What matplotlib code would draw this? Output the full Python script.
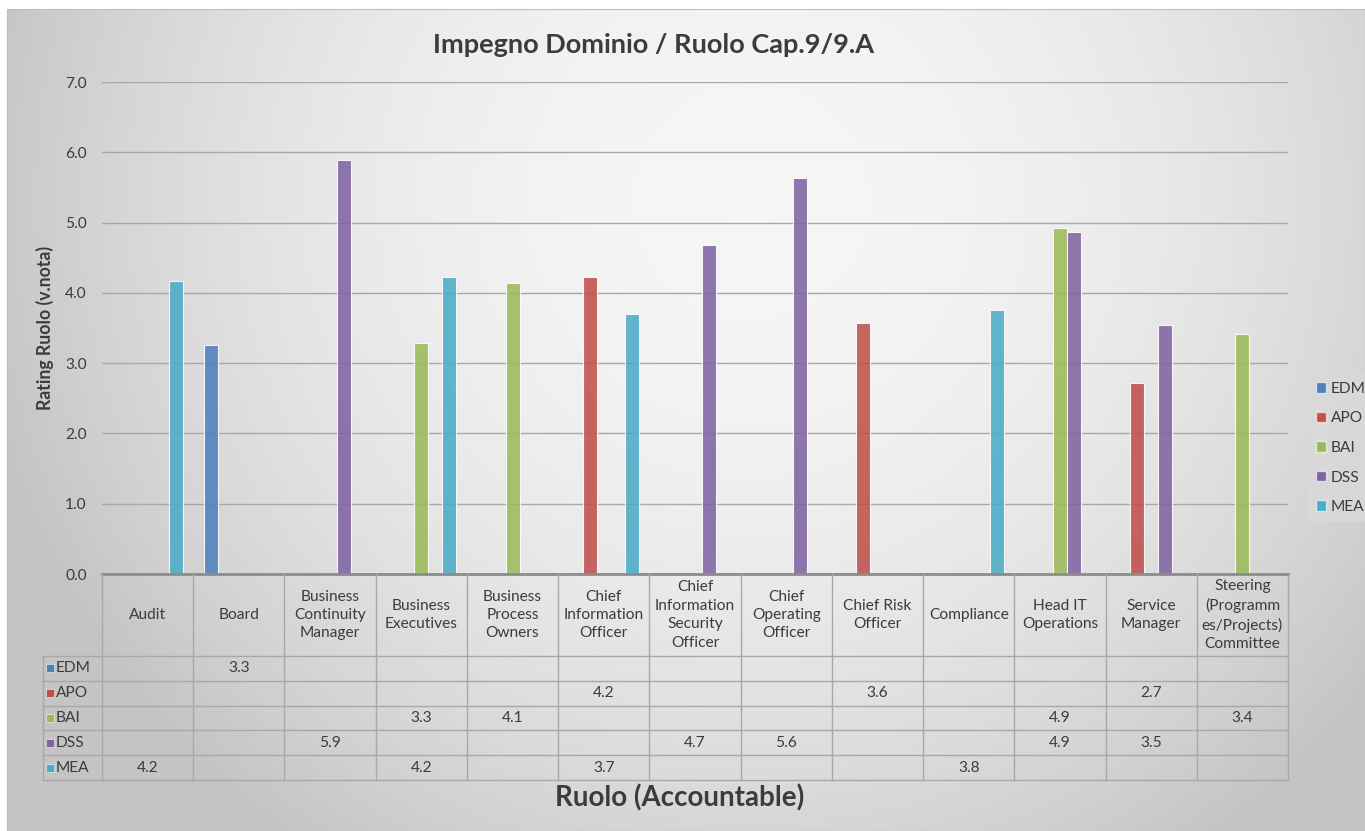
import matplotlib.pyplot as plt
from matplotlib.patches import Patch
import numpy as np

plt.rcParams['font.family'] = ['Lato', 'DejaVu Sans']

categories = ["Audit", "Board", "Business\nContinuity\nManager", "Business\nExecutives",
              "Business\nProcess\nOwners", "Chief\nInformation\nOfficer",
              "Chief\nInformation\nSecurity\nOfficer", "Chief\nOperating\nOfficer",
              "Chief Risk\nOfficer", "Compliance", "Head IT\nOperations", "Service\nManager",
              "Steering\n(Programm\nes/Projects)\nCommittee"]
series = ["EDM", "APO", "BAI", "DSS", "MEA"]
edm = [None, 3.26, None, None, None, None, None, None, None, None, None, None, None]
apo = [None, None, None, None, None, 4.22, None, None, 3.57, None, None, 2.72, None]
bai = [None, None, None, 3.29, 4.14, None, None, None, None, None, 4.92, None, 3.41]
dss = [None, None, 5.89, None, None, None, 4.68, 5.63, None, None, 4.86, 3.54, None]
mea = [4.17, None, None, 4.22, None, 3.70, None, None, None, 3.76, None, None, None]
values = [edm, apo, bai, dss, mea]
colors = ["#4f81bd", "#c0504d", "#9bbb59", "#8064a2", "#4bacc6"]
yticks = [0, 1, 2, 3, 4, 5, 6, 7]

W, H = 1365, 831
fig = plt.figure(figsize=(W / 100, H / 100), dpi=100)
fig.patch.set_facecolor("white")

# background gradient
bg = fig.add_axes([7 / W, 0, 1 - 7 / W, 1 - 9 / H], zorder=-10)
yy, xx = np.mgrid[9:H:2, 7:W:2]
d = np.hypot(xx - 750, yy - 200)
g = np.clip(0.965 - 0.19 * (d / 775) ** 2, 0.77, 1)
bg.imshow(np.dstack([g, g, g]), aspect="auto", extent=[0, 1, 0, 1])
bg.set_xticks([])
bg.set_yticks([])
for sp in bg.spines.values():
    sp.set_color("#c0c0c0")

txt = "#3c3c3c"
grid = "#a8a8a8"
fs = 11.2

ax = fig.add_axes([102 / W, (H - 574) / H, 1186 / W, 492 / H])
ax.set_facecolor("none")
n = len(categories)
x = np.arange(n)
bw = 14 / 91.23
for i, (name, vals, c) in enumerate(zip(series, values, colors)):
    h = np.array([np.nan if v is None else v for v in vals])
    ax.bar(x + (i - 2) * bw, h, bw, color=c, alpha=0.88, edgecolor=(1, 1, 1, 0.5),
           linewidth=0.8, zorder=3, label=name)
ax.set_xlim(-0.5, n - 0.5)
ax.set_ylim(0, 7)
ax.set_yticks(yticks)
ax.set_yticklabels([f"{t:.1f}" for t in yticks], color=txt, fontsize=fs)
ax.tick_params(axis="y", length=0, pad=11)
ax.set_xticks([])
ax.grid(axis="y", color=grid, linewidth=1, zorder=0)
for s in ["top", "right", "left"]:
    ax.spines[s].set_visible(False)
ax.spines["bottom"].set_color("#8c8c8c")
ax.spines["bottom"].set_linewidth(2)
ax.spines["bottom"].set_zorder(5)
ax.set_ylabel("Rating Ruolo (v.nota)", fontsize=12.7, fontweight="bold", color=txt, labelpad=8)

# data table under the plot
tab = fig.add_axes([43 / W, (H - 780) / H, 1245 / W, 206 / H])
tab.set_facecolor("none")
lx = -0.5 - 59 / 91.23
tab.set_xlim(lx, n - 0.5)
tab.set_ylim(206, 0)
tab.axis("off")
hh = 82
rh = (206 - hh) / 5
for k in range(6):
    tab.plot([lx, n - 0.5], [hh + k * rh] * 2, color=grid, lw=1, clip_on=False)
for i in range(n + 1):
    tab.plot([i - 0.5] * 2, [0, 206], color=grid, lw=1, clip_on=False)
tab.plot([lx] * 2, [hh, 206], color=grid, lw=1, clip_on=False)
for i, cat in enumerate(categories):
    tab.text(i, hh / 2, cat, ha="center", va="center", fontsize=fs, color=txt, linespacing=1.4)
for r, (name, vals, c) in enumerate(zip(series, values, colors)):
    yc = hh + (r + 0.5) * rh
    tab.plot([lx + 7 / 91.23], [yc], marker="s", ms=6, color=c, mec=(1, 1, 1, 0.6), mew=0.6)
    tab.text(lx + 13 / 91.23, yc, name, ha="left", va="center", fontsize=fs, color=txt)
    for i, v in enumerate(vals):
        if v is not None:
            tab.text(i, yc, f"{v:.1f}", ha="center", va="center", fontsize=fs, color=txt)

fig.text(654 / W, 1 - 45 / H, "Impegno Dominio / Ruolo Cap.9/9.A", ha="center", va="center",
         fontsize=19.5, fontweight="bold", color=txt)
fig.text(680 / W, 1 - 798 / H, "Ruolo (Accountable)", ha="center", va="center",
         fontsize=20, fontweight="bold", color=txt)

handles = [Patch(facecolor=c, edgecolor=(1, 1, 1, 0.6), label=s) for s, c in zip(series, colors)]
leg = fig.legend(handles=handles, loc="center left", bbox_to_anchor=(1308 / W, 1 - 448 / H),
                 fontsize=fs, frameon=True, fancybox=False, handlelength=0.65, handleheight=0.65,
                 handletextpad=0.3, labelspacing=1.0, borderpad=0.5, borderaxespad=0)
leg.get_frame().set_facecolor("#dadada")
leg.get_frame().set_edgecolor("none")
leg.get_frame().set_alpha(0.7)
for t in leg.get_texts():
    t.set_color(txt)

fig.savefig("out.png", dpi=100)
